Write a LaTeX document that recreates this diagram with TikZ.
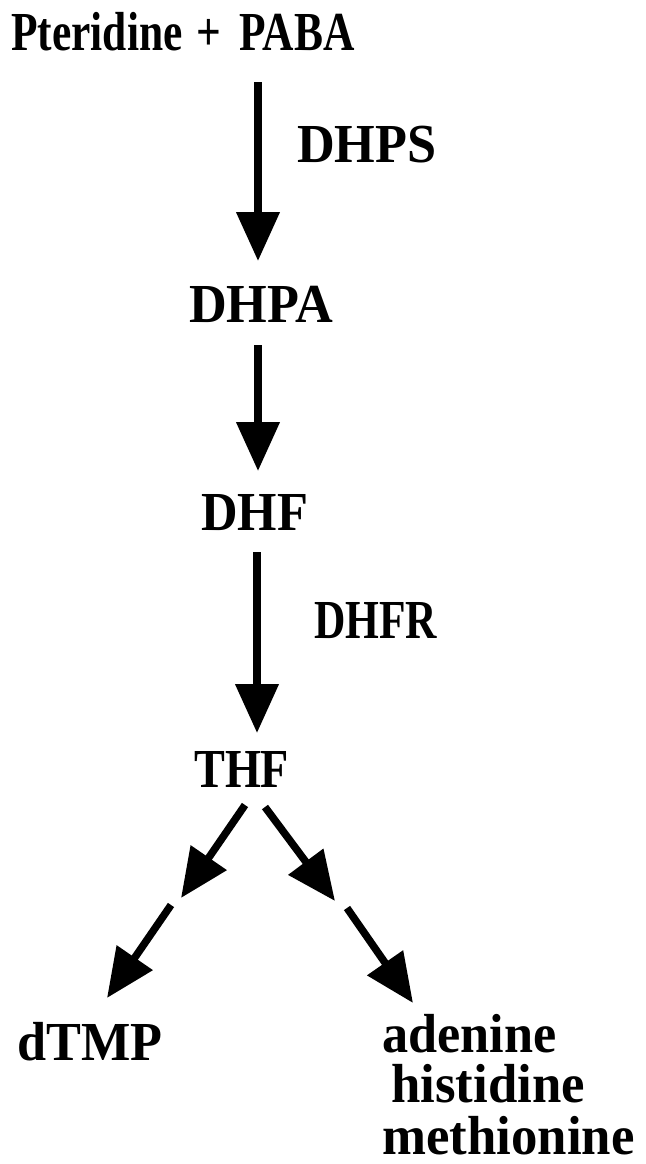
\documentclass[tikz,border=0pt]{standalone}
\usepackage{fontspec}
\usepackage{graphicx}
\setmainfont{Liberation Serif}
\usetikzlibrary{arrows.meta}
% horizontal squeeze of a label
\newcommand{\hsq}[2]{\scalebox{#1}[1]{#2}}
\begin{document}
\begin{tikzpicture}[x=1pt,y=-1pt,
  lbl/.style={anchor=base west,inner sep=0pt,
    font=\fontsize{55}{55}\selectfont\bfseries},
  arr/.style={line width=7.5pt,-{Triangle[length=49pt,width=42pt]}}]
\useasboundingbox (0,0) rectangle (645,1164);

% compounds and enzymes
\node[lbl] (title) at (11,51)  {\hsq{0.79}{Pteridine \hspace{4pt}+ \hspace{9pt}PABA}};
\node[lbl] (dhps)  at (297,162) {\hsq{0.95}{DHPS}};
\node[lbl] (dhpa)  at (189,322) {\hsq{0.95}{DHPA}};
\node[lbl] (dhf)   at (201,530) {\hsq{0.92}{DHF}};
\node[lbl] (dhfr)  at (314,638) {\hsq{0.79}{DHFR}};
\node[lbl] (thf)   at (194,787) {\hsq{0.84}{THF}};
\node[lbl] (dtmp)  at (17,1060) {\hsq{0.95}{dTMP}};
\node[lbl] (aden)  at (382,1052) {\hsq{0.95}{adenine}};
\node[lbl] (hist)  at (391,1102) {\hsq{0.96}{histidine}};
\node[lbl] (meth)  at (382,1154) {\hsq{0.96}{methionine}};

% arrow end points
\coordinate (p1s) at (258,82);   \coordinate (p1e) at (258,261);
\coordinate (p2s) at (258,345);  \coordinate (p2e) at (258,471);
\coordinate (p3s) at (257,552);  \coordinate (p3e) at (257,733);
\coordinate (l1s) at (245,805);  \coordinate (l1e) at (181,898);
\coordinate (l2s) at (171,905);  \coordinate (l2e) at (107,998);
\coordinate (r1s) at (265,807);  \coordinate (r1e) at (335,901);
\coordinate (r2s) at (347,908);  \coordinate (r2e) at (413,1003);

% main chain
\draw[arr] (p1s) -- (p1e);
\draw[arr] (p2s) -- (p2e);
\draw[arr] (p3s) -- (p3e);

% branches from THF
\draw[arr] (l1s) -- (l1e);
\draw[arr] (l2s) -- (l2e);
\draw[arr] (r1s) -- (r1e);
\draw[arr] (r2s) -- (r2e);
\end{tikzpicture}
\end{document}
